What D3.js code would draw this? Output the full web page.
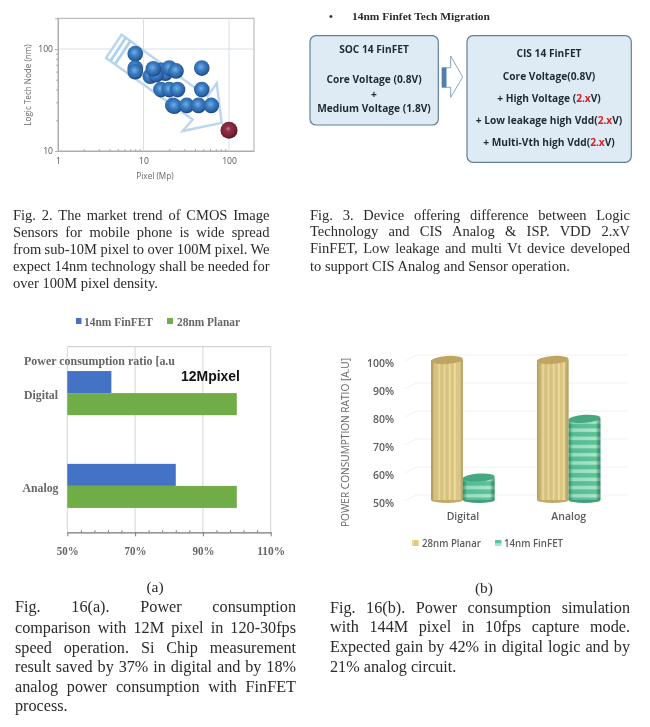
<!DOCTYPE html>
<html><head><meta charset="utf-8">
<script src="https://cdn.jsdelivr.net/npm/d3@7"></script>
<style>
html,body{margin:0;padding:0;background:#fff}
svg{display:block;filter:blur(.45px)}
.cap{font-family:"Liberation Serif",serif;fill:#2a2a2a}
.sans{font-family:"Open Sans","Noto Sans",sans-serif}
</style></head><body>
<svg id="c" width="650" height="727"></svg>
<script>
// Fig. 2 scatter
const pixelMp   = [8,8,8,16,18,12,14,13,20,24,48,16,20,25,48,22,23,32,44,62];
const techNodeNm= [90,65,60,62,58,54,56,64,65,61,65,40,40,40,40,28,27.5,28,28,28];
const targetPixel = [100], targetNode = [16];
const scatterXTicks = [1,10,100], scatterYTicks = [10,100];
const arrowPixel = [5.55,3.64,37.6,28.7,82,71.8,55.8];
const arrowNode  = [138,81.5,20.4,15.7,18.9,46.1,34.1];
const stripePixel = [[6.24,4.13],[7.08,4.68]];
const stripeNode  = [[130,76.7],[121,71.7]];
// Fig. 3 blocks
const figTitle = "14nm Finfet Tech Migration";
const socLines = ["SOC 14 FinFET","Core Voltage (0.8V)","+","Medium Voltage (1.8V)"];
const cisLines = ["CIS 14 FinFET","Core Voltage(0.8V)","+ High Voltage (2.xV)","+ Low leakage high Vdd(2.xV)","+ Multi-Vth high Vdd(2.xV)"];
// Fig. 16(a)
const groupsA = ["Digital","Analog"];
const finfetA = [63,82];
const planarA = [100,100];
const ticksA = [50,70,90,110];
// Fig. 16(b)
const groupsB = ["Digital","Analog"];
const planarB = [100,100];
const finfetB = [58,79];
const ticksB = [50,60,70,80,90,100];
// Captions
const capFig2 = ["Fig. 2. The market trend of CMOS Image","Sensors for mobile phone is wide spread","from sub-10M pixel to over 100M pixel. We","expect 14nm technology shall be needed for","over 100M pixel density."];
const capFig3 = ["Fig. 3. Device offering difference between Logic","Technology and CIS Analog & ISP. VDD 2.xV","FinFET, Low leakage and multi Vt device developed","to support CIS Analog and Sensor operation."];
const capFig16a = ["Fig. 16(a). Power consumption","comparison with 12M pixel in 120-30fps","speed operation. Si Chip measurement","result saved by 37% in digital and by 18%","analog power consumption with FinFET","process."];
const capFig16b = ["Fig. 16(b). Power consumption simulation","with 144M pixel in 10fps capture mode.","Expected gain by 42% in digital logic and by","21% analog circuit."];

const svg = d3.select("#c");
const defs = svg.append("defs");
function sphereGrad(id,stops){
  const g=defs.append("radialGradient").attr("id",id).attr("cx","45%").attr("cy","42%").attr("r","58%");
  stops.forEach(s=>g.append("stop").attr("offset",s[0]).attr("stop-color",s[1]));
}
sphereGrad("sb",[["0%","#6fb0e4"],["45%","#3b7cc2"],["80%","#2a62a6"],["100%","#1c3f70"]]);
sphereGrad("sr",[["0%","#b98a92"],["25%","#93304a"],["80%","#74202f"],["100%","#4c1420"]]);
// ---------- Fig 2
const sx=d3.scaleLog().domain([1,196]).range([58,254]);
const sy=d3.scaleLog().domain([10,200]).range([151,18.3]);
const g2=svg.append("g");
g2.append("rect").attr("x",58).attr("y",18.3).attr("width",196).attr("height",132.7).attr("fill","#fff").attr("stroke","#a9adb2").attr("stroke-width",1);
g2.selectAll(".gx").data([10,100]).join("line").attr("x1",d=>sx(d)).attr("x2",d=>sx(d)).attr("y1",18.3).attr("y2",151).attr("stroke","#d6e0ea");
g2.selectAll(".gy").data([100]).join("line").attr("y1",d=>sy(d)).attr("y2",d=>sy(d)).attr("x1",58).attr("x2",254).attr("stroke","#d6e0ea");
const minorX=[2,3,4,5,6,7,8,9,20,30,40,50,60,70,80,90], minorY=[20,30,40,50,60,70,80,90];
const ax=g2.append("g").attr("transform","translate(0,151)").call(d3.axisBottom(sx).tickValues(scatterXTicks).tickFormat(d3.format("d")).tickSize(0).tickPadding(7));
const ay=g2.append("g").attr("transform","translate(58,0)").call(d3.axisLeft(sy).tickValues(scatterYTicks).tickFormat(d3.format("d")).tickSize(3).tickPadding(2));
[ax,ay].forEach(a=>{a.select(".domain").attr("stroke","#a9adb2");a.selectAll("line").attr("stroke","#a9adb2");a.selectAll("text").attr("class","sans").attr("fill","#555").style("font-size","8.6px");});
g2.append("g").attr("transform","translate(0,151)").call(d3.axisTop(sx).tickValues(minorX).tickFormat("").tickSize(2)).call(s=>{s.select(".domain").remove();s.selectAll("line").attr("stroke","#a9adb2")});
g2.append("g").attr("transform","translate(58,0)").call(d3.axisLeft(sy).tickValues(minorY).tickFormat("").tickSize(2)).call(s=>{s.select(".domain").remove();s.selectAll("line").attr("stroke","#a9adb2")});
g2.append("text").attr("class","sans").attr("x",155).attr("y",179).attr("text-anchor","middle").attr("fill","#666").style("font-size","8.2px").text("Pixel (Mp)");
g2.append("text").attr("class","sans").attr("transform","translate(31,85) rotate(-90)").attr("text-anchor","middle").attr("fill","#666").style("font-size","8.1px").text("Logic Tech Node (nm)");
g2.append("path").attr("d",d3.line().x((d,i)=>sx(arrowPixel[i])).y((d,i)=>sy(arrowNode[i]))(arrowPixel)+"Z").attr("fill","#ffffff").attr("fill-opacity",.35).attr("stroke","#b9d6ee").attr("stroke-width",2.4);
stripePixel.forEach((p,i)=>g2.append("line").attr("x1",sx(p[0])).attr("x2",sx(p[1])).attr("y1",sy(stripeNode[i][0])).attr("y2",sy(stripeNode[i][1])).attr("stroke","#a9d0f0").attr("stroke-width",2.6));
g2.selectAll(".pt").data(pixelMp).join("circle").attr("cx",d=>sx(d)).attr("cy",(d,i)=>sy(techNodeNm[i])).attr("r",7.8).attr("fill","url(#sb)");
g2.selectAll(".tg").data(targetPixel).join("circle").attr("cx",d=>sx(d)).attr("cy",(d,i)=>sy(targetNode[i])).attr("r",8.5).attr("fill","url(#sr)");
// ---------- Fig 3
const g3=svg.append("g");
const sansBold=s=>s.attr("class","sans").attr("font-weight",700).attr("fill","#1f2a30").attr("text-anchor","middle");
g3.append("text").attr("x",331).attr("y",20).attr("class","cap").attr("text-anchor","middle").attr("font-weight",700).style("font-size","11px").text("•");
g3.append("text").attr("x",352).attr("y",20).attr("class","cap").attr("font-weight",700).attr("fill","#222").style("font-size","11px").attr("textLength",138).attr("lengthAdjust","spacingAndGlyphs").text(figTitle);
g3.append("rect").attr("x",310).attr("y",35.7).attr("width",128.3).attr("height",89.3).attr("rx",6).attr("fill","#deebf5").attr("stroke","#5f8098").attr("stroke-width",1.2);
g3.append("rect").attr("x",467).attr("y",35.7).attr("width",164.3).attr("height",126.6).attr("rx",6).attr("fill","#deebf5").attr("stroke","#5f8098").attr("stroke-width",1.2);
function boxText(lines,ys,cx){
  lines.forEach((t,i)=>{
    const el=g3.append("text").attr("x",cx).attr("y",ys[i]+4).call(sansBold).style("font-size","10.2px");
    t.split("2.x").forEach((part,j)=>{
      if(j>0) el.append("tspan").attr("fill","#d4202a").text("2.x");
      el.append("tspan").text(part);
    });
  });
}
boxText(socLines,[48.7,79,94,108],374);
boxText(cisLines,[53,75.7,98,120,142],549);
g3.append("path").attr("d","M442,67.7H450.7V56L462.7,77L450.7,97.3V87.3H442Z").attr("fill","#fff").attr("stroke","#7f9db5").attr("stroke-width",.9);
g3.append("rect").attr("x",442).attr("y",67.7).attr("width",4.5).attr("height",19.6).attr("fill","#4f7fae");
// ---------- Fig 16a
const g4=svg.append("g");
const ax4=d3.scaleLinear().domain([50,110]).range([67.3,270.7]);
const ay4=d3.scaleBand().domain(groupsA).range([346.7,532.3]).paddingInner(.525).paddingOuter(.2625);
const serifB=(s,len)=>{s.attr("class","cap").attr("font-weight",700).style("fill","#666");if(len)s.attr("textLength",len).attr("lengthAdjust","spacingAndGlyphs");};
g4.append("line").attr("x1",67.3).attr("x2",270.7).attr("y1",346.7).attr("y2",346.7).attr("stroke","#c8c8c8");
g4.selectAll(".g").data(ticksA).join("line").attr("x1",d=>ax4(d)).attr("x2",d=>ax4(d)).attr("y1",346.7).attr("y2",532.3).attr("stroke","#d4d4d4");
const bh=ay4.bandwidth()/2;
g4.selectAll(".bb").data(finfetA).join("rect").attr("x",ax4(50)).attr("y",(d,i)=>ay4(groupsA[i])).attr("width",d=>ax4(d)-ax4(50)).attr("height",bh).attr("fill","#4472c4");
g4.selectAll(".bg").data(planarA).join("rect").attr("x",ax4(50)).attr("y",(d,i)=>ay4(groupsA[i])+bh).attr("width",d=>ax4(d)-ax4(50)).attr("height",bh).attr("fill","#70ad47");
const xa4=g4.append("g").attr("transform","translate(0,532.3)").call(d3.axisBottom(ax4).tickValues(ticksA).tickFormat(d=>d+"%").tickSize(4).tickPadding(9).tickSizeOuter(0));
xa4.select(".domain").attr("stroke","#777").attr("stroke-width",1.2);xa4.selectAll("line").attr("stroke","#777");
xa4.selectAll("text").attr("class","cap").attr("font-weight",700).style("fill","#666").style("font-size","13px").attr("textLength",d=>d>=100?28:22).attr("lengthAdjust","spacingAndGlyphs");
g4.append("g").attr("transform","translate(0,532.3)").call(d3.axisTop(ax4).tickValues(d3.range(54,110,4).filter(d=>!ticksA.includes(d))).tickFormat("").tickSize(2)).call(s=>{s.select(".domain").remove();s.selectAll("line").attr("stroke","#777")});
g4.append("text").attr("x",24).attr("y",365).style("font-size","13.5px").call(serifB,151).text("Power consumption ratio [a.u");
g4.append("text").attr("x",181).attr("y",381).attr("font-family","Liberation Sans, sans-serif").attr("font-weight",700).attr("fill","#111").style("font-size","14.5px").attr("textLength",59).attr("lengthAdjust","spacingAndGlyphs").text("12Mpixel");
g4.append("text").attr("x",24).attr("y",399).style("font-size","13.5px").call(serifB,34).text(groupsA[0]);
g4.append("text").attr("x",22.5).attr("y",492).style("font-size","13.5px").call(serifB,36).text(groupsA[1]);
g4.append("rect").attr("x",76).attr("y",318).attr("width",5.5).attr("height",6).attr("fill","#4472c4");
g4.append("text").attr("x",84).attr("y",326).style("font-size","13px").call(serifB,69).text("14nm FinFET");
g4.append("rect").attr("x",167).attr("y",318).attr("width",6).attr("height",6).attr("fill","#70ad47");
g4.append("text").attr("x",177).attr("y",326).style("font-size","13px").call(serifB,63).text("28nm Planar");
g4.append("text").attr("class","cap").attr("x",155).attr("y",592).attr("text-anchor","middle").style("font-size","15.5px").text("(a)");
// ---------- Fig 16b
const g5=svg.append("g");
const ax5=d3.scaleBand().domain(groupsB).range([410,621.6]).paddingInner(.4).paddingOuter(.2);
const ay5=d3.scaleLinear().domain([50,100]).range([500,360]);
const pp=defs.append("pattern").attr("id","pPlanar").attr("patternUnits","userSpaceOnUse").attr("width",5.2).attr("height",10);
pp.append("rect").attr("width",5.2).attr("height",10).attr("fill","#dcc682");
pp.append("rect").attr("x",1.6).attr("width",1.6).attr("height",10).attr("fill","#efe2a6");
const pf=defs.append("pattern").attr("id","pFin").attr("patternUnits","userSpaceOnUse").attr("width",10).attr("height",8.2);
pf.append("rect").attr("width",10).attr("height",8.2).attr("fill","#5cc498");
pf.append("rect").attr("y",2).attr("width",10).attr("height",3.6).attr("fill","#a8e6cb");
const shade=defs.append("linearGradient").attr("id","cyl");
[["0%","#6a5520",.5],["14%","#6a5520",.05],["85%","#000",0],["100%","#5a4818",.3]].forEach(s=>shade.append("stop").attr("offset",s[0]).attr("stop-color",s[1]).attr("stop-opacity",s[2]));
const shadeF=defs.append("linearGradient").attr("id","cylF");
[["0%","#0c6a46",.6],["14%","#0c6a46",.08],["85%","#000",0],["100%","#0c6a46",.55]].forEach(s=>shadeF.append("stop").attr("offset",s[0]).attr("stop-color",s[1]).attr("stop-opacity",s[2]));
g5.selectAll(".gl").data(ticksB).join("path").attr("d",d=>`M405,${ay5(d)+1}L416,${ay5(d)-5}H627`).attr("fill","none").attr("stroke","#f0f1f2");
const cw=ax5.bandwidth()/2;
function cylinders(vals,off,pat,sh,topCol,edge){
  const grp=g5.append("g");
  vals.forEach((v,i)=>{
    const x=ax5(groupsB[i])+off, yt=ay5(v), yb=ay5(50);
    grp.append("ellipse").attr("cx",x+cw/2).attr("cy",yb).attr("rx",cw/2).attr("ry",3).attr("fill",edge);
    grp.append("rect").attr("x",x).attr("y",yt).attr("width",cw).attr("height",yb-yt).attr("fill",pat);
    grp.append("rect").attr("x",x).attr("y",yt).attr("width",cw).attr("height",yb-yt).attr("fill",sh);
    grp.append("ellipse").attr("cx",x+cw/2).attr("cy",yt).attr("rx",cw/2).attr("ry",4).attr("transform",`rotate(-4 ${x+cw/2} ${yt})`).attr("fill",topCol);
  });
}
cylinders(planarB,0,"url(#pPlanar)","url(#cyl)","#bfa562","#c2aa68");
cylinders(finfetB,cw,"url(#pFin)","url(#cylF)","#45a880","#3f9f78");
const ya5=g5.append("g").attr("transform","translate(397,0)").call(d3.axisLeft(ay5).tickValues(ticksB).tickFormat(d=>d+"%").tickSize(0).tickPadding(3));
ya5.select(".domain").remove();
ya5.selectAll("text").attr("class","sans").attr("font-weight",600).attr("fill","#5c5c5c").style("font-size","10.5px").attr("dy","0.6em");
const xa5=g5.append("g").attr("transform","translate(0,510)").call(d3.axisBottom(ax5).tickSize(0).tickPadding(3));
xa5.select(".domain").remove();
xa5.selectAll("text").attr("class","sans").attr("font-weight",600).attr("fill","#5c5c5c").style("font-size","10.5px");
g5.append("text").attr("class","sans").attr("transform","translate(349,442.5) rotate(-90)").attr("text-anchor","middle").attr("fill","#666").attr("font-weight",500).style("font-size","10px").attr("textLength",169).attr("lengthAdjust","spacingAndGlyphs").text("POWER CONSUMPTION RATIO [A.U]");
g5.append("rect").attr("x",412).attr("y",540).attr("width",7).attr("height",6).attr("fill","url(#pPlanar)");
g5.append("text").attr("class","sans").attr("x",422).attr("y",546.5).attr("font-weight",600).attr("fill","#5c5c5c").style("font-size","10.5px").attr("textLength",59).attr("lengthAdjust","spacingAndGlyphs").text("28nm Planar");
g5.append("rect").attr("x",495).attr("y",540).attr("width",6.5).attr("height",6).attr("fill","url(#pFin)");
g5.append("text").attr("class","sans").attr("x",504).attr("y",546.5).attr("font-weight",600).attr("fill","#5c5c5c").style("font-size","10.5px").attr("textLength",59).attr("lengthAdjust","spacingAndGlyphs").text("14nm FinFET");
g5.append("text").attr("class","cap").attr("x",484).attr("y",593).attr("text-anchor","middle").style("font-size","15.5px").text("(b)");
// ---------- Captions (justified)
function caption(lines,x0,x1,baselines,size){
  lines.forEach((t,i)=>{
    const el=svg.append("text").attr("class","cap").attr("x",x0).attr("y",baselines[i]).style("font-size",size+"px").text(t);
    if(i<lines.length-1){
      const n=t.split(" ").length-1, w=el.node().getComputedTextLength();
      el.attr("word-spacing",((x1-x0-w)/n).toFixed(3));
    }
  });
}
caption(capFig2,13,269.5,[220,237,254,271,288],14.5);
caption(capFig3,310,630,[220,236,253,271],14.5);
caption(capFig16a,15,296,[612,633,653,672,692,711],16.2);
caption(capFig16b,330,630,[613,632,652,672],16.2);
</script>
</body></html>
